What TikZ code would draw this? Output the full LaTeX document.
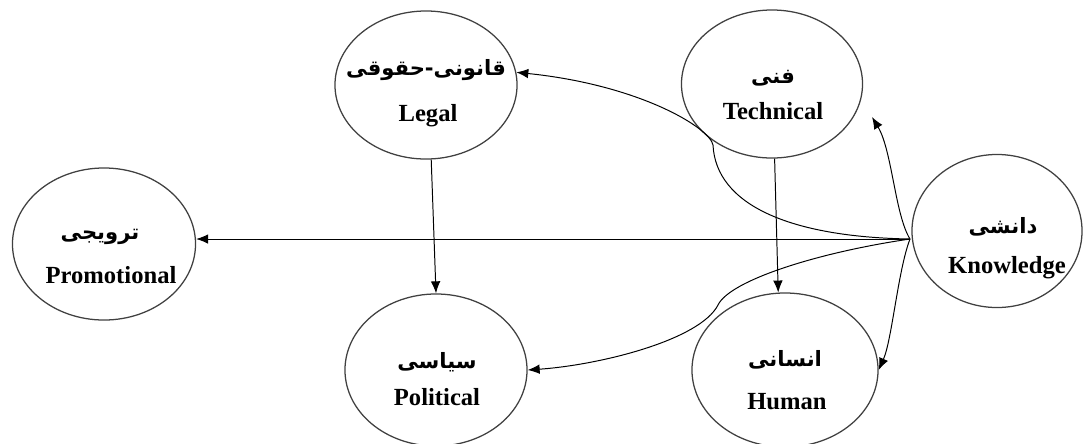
\documentclass[tikz,border=0pt]{standalone}
\usepackage{fontspec}
\setmainfont{Liberation Serif}
\newfontfamily\fafont[Script=Arabic]{DejaVu Sans}
\TeXXeTstate=1
\usetikzlibrary{shapes.geometric,arrows.meta}
\begin{document}
\begin{tikzpicture}[
        x=0.025cm, y=-0.025cm,
        >={Latex[length=3mm,width=2.4mm]},
        bubble/.style={
            draw=black!75, line width=0.9pt, ellipse, inner sep=0pt
        },
        entext/.style={font=\fontsize{17.5}{20}\selectfont\bfseries},
        fatext/.style={font=\fafont\bfseries\fontsize{15}{18}\selectfont},
        link/.style={->, line width=0.7pt}
    ]
    \useasboundingbox (0,0) rectangle (1083,443);

    \node[bubble, minimum width=4.55cm, minimum height=3.7cm] (Legal) at (426,85) {};
    \node[bubble, minimum width=4.525cm, minimum height=3.7cm] (Tech) at (772,84) {};
    \node[bubble, minimum width=4.25cm, minimum height=3.825cm] (Know) at (997,231) {};
    \node[bubble, minimum width=4.575cm, minimum height=3.8cm] (Promo) at (104,244) {};
    \node[bubble, minimum width=4.55cm, minimum height=3.8cm] (Polit) at (436,370) {};
    \node[bubble, minimum width=4.65cm, minimum height=3.85cm] (Human) at (785,370) {};

    % labels
    \node[fatext] (Legal-fa) at (426,70) {\beginR قانونی-حقوقی\endR};
    \node[entext] (Legal-en) at (428,116) {Legal};
    \node[fatext] (Tech-fa) at (773,78) {\beginR فنی\endR};
    \node[entext] (Tech-en) at (773,111) {Technical};
    \node[fatext] (Know-fa) at (1003,227) {\beginR دانشی\endR};
    \node[entext] (Know-en) at (1007,268) {Knowledge};
    \node[fatext] (Promo-fa) at (100,237) {\beginR ترویجی\endR};
    \node[entext] (Promo-en) at (111,275) {Promotional};
    \node[fatext] (Polit-fa) at (437,362) {\beginR سیاسی\endR};
    \node[entext] (Polit-en) at (437,397) {Political};
    \node[fatext] (Human-fa) at (785,360) {\beginR انسانی\endR};
    \node[entext] (Human-en) at (787,402) {Human};

    \coordinate (hub) at (910,239);
    \coordinate (techtip) at (872,117);

    % links
    \draw[link] (hub) -- (hub -| Promo.east);
    \draw[link] (hub) .. controls (790,237) and (716,205) .. (713,145)
        .. controls (710,128) and (640,85) .. (Legal.8);
    \draw[link] (hub) .. controls (895,215) and (892,150) .. (techtip);
    \draw[link] (hub) .. controls (820,252) and (730,280) .. (718,305)
        .. controls (700,340) and (600,365) .. (Polit.east);
    \draw[link] (hub) .. controls (898,270) and (892,340) .. (Human.east);
    \draw[link] (Legal.-86) -- (Polit.north);
    \draw[link] (Tech.-88) -- (Human.95);
\end{tikzpicture}
\end{document}
